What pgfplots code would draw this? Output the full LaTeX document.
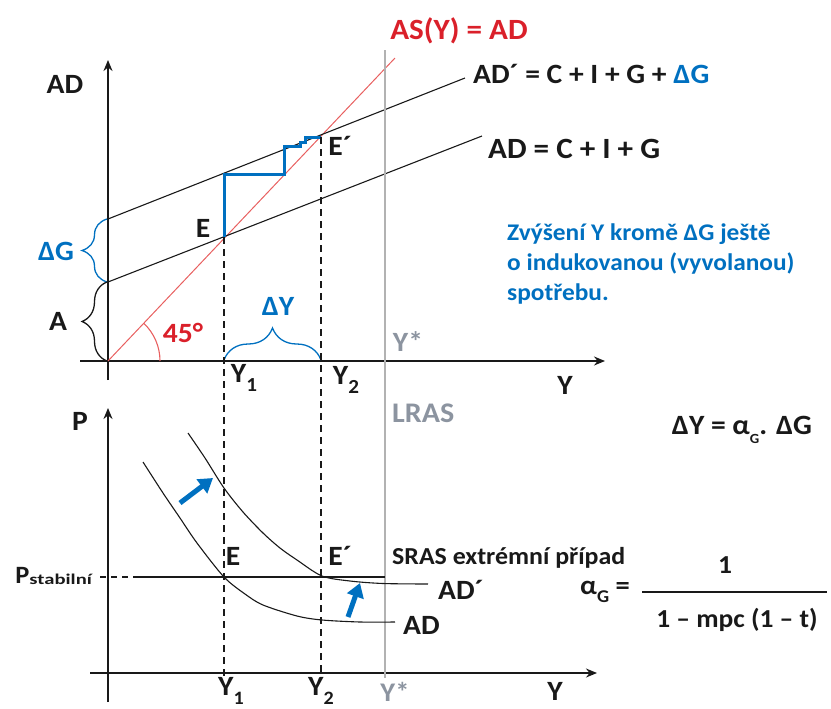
\documentclass[border=0pt]{standalone}
\usepackage{pgfplots}
\pgfplotsset{compat=1.18}
\usepackage{fontspec}
\setmainfont{Carlito}[FakeStretch=1.06]
\usetikzlibrary{arrows.meta,decorations.pathreplacing}

\definecolor{txtblue}{RGB}{0,112,192}
\definecolor{txtred}{RGB}{218,32,42}
\definecolor{diagred}{RGB}{232,96,96}
\definecolor{lrasgray}{RGB}{178,178,178}
\definecolor{graytxt}{RGB}{140,148,160}
\definecolor{ink}{RGB}{25,25,25}

% lowered index: \idx[size]{text}
\newcommand{\idx}[2][20]{\raisebox{-0.3em}{\fontsize{#1}{#1}\selectfont #2}}
\newcommand{\fs}[1]{\fontsize{#1}{#1}\selectfont\bfseries}

\tikzset{
  big/.style={font=\fs{28}, text=ink, inner sep=0pt},
  note/.style={font=\fs{24}, text=txtblue, inner sep=0pt, anchor=base west},
  curve/.style={ink, line width=1.1bp},
  drop/.style={ink, line width=1.3bp, dash pattern=on 7bp off 5bp},
  shiftarrow/.style={txtblue, line width=5bp, -{Triangle[length=14bp,width=17bp]}},
}

\begin{document}
\begin{tikzpicture}
\useasboundingbox (0,0) rectangle (831bp,-709bp);

% ---- income-expenditure (Keynesian cross) diagram ----
\begin{axis}[
  at={(108bp,-361bp)}, anchor=origin,
  x=1bp, y=1bp,
  xmin=-28, xmax=497, ymin=-19, ymax=301,
  axis lines=middle,
  axis line style={ink, line width=1.6bp},
  every inner x axis line/.append style={-{Stealth[length=11bp,width=9bp]}},
  every inner y axis line/.append style={-{Stealth[length=11bp,width=9bp]}},
  xtick=\empty, ytick=\empty,
  clip=false,
]
% 45-degree line AS(Y) = AD
\addplot[diagred, line width=1bp] coordinates {(0,0) (287,303)};
% AD = C + I + G and AD' = AD + dG
\addplot[curve] coordinates {(0,79) (374,225)};
\addplot[curve] coordinates {(0,142) (357,283)};
% multiplier staircase from E to E'
\addplot[txtblue, line width=3bp, line join=miter] coordinates {
  (116,124) (116,187) (176,187) (176,215) (192,215) (192,219)
  (197,219) (197,224) (213,224)};
% angle mark
\draw[diagred, line width=1.1bp] (52,0) arc[start angle=0, end angle=46.6, radius=52bp];
% braces
\draw[decorate, decoration={brace, amplitude=25bp}, txtblue, line width=1.3bp] (-1,79) -- (-1,142);
\draw[decorate, decoration={brace, amplitude=25bp}, ink, line width=1.3bp] (-1,0) -- (-1,79);
\draw[decorate, decoration={brace, amplitude=32bp}, txtblue, line width=1.3bp] (116,1) -- (213,1);
% labels
\node[big] at (-43,277) {AD};
\node[big, text=txtblue] at (-52,110) {ΔG};
\node[big] at (-50,40) {A};
\node[big, text=txtred] at (75,28) {45°};
\node[big] at (95,133) {E};
\node[big] at (232,215) {E´};
\node[big, text=txtblue] at (170,55) {ΔY};
\node[big] at (136,-17) {Y\idx{1}};
\node[big] at (238,-19) {Y\idx{2}};
\node[big, text=graytxt] at (300,19) {Y*};
\node[big] at (457,-24) {Y};
\node[big, font=\fs{29.5}, text=txtred] at (351,330) {AS(Y) = AD};
\node[big, anchor=west] at (365,287) {AD´ = C + I + G + \textcolor{txtblue}{ΔG}};
\node[big, font=\fs{29.5}, anchor=west] at (380,212) {AD = C + I + G};
\node[note] at (399,121) {Zvýšení Y kromě ΔG ještě};
\node[note] at (399,91) {o indukovanou (vyvolanou)};
\node[note] at (399,61) {spotřebu.};
\end{axis}

% ---- aggregate demand / supply diagram ----
\begin{axis}[
  at={(108bp,-673bp)}, anchor=origin,
  x=1bp, y=1bp,
  xmin=-18, xmax=489, ymin=-29, ymax=265,
  axis lines=middle,
  axis line style={ink, line width=1.6bp},
  every inner x axis line/.append style={-{Stealth[length=11bp,width=9bp]}},
  every inner y axis line/.append style={-{Stealth[length=11bp,width=9bp]}},
  xtick=\empty, ytick=\empty,
  clip=false,
]
% potential output Y* (LRAS), spanning both diagrams
\addplot[lrasgray, line width=1.6bp] coordinates {(277,623) (277,-5)};
% income levels Y1 and Y2, dropped from E and E'
\addplot[drop] coordinates {(116,436) (116,-6)};
\addplot[drop] coordinates {(213,536) (213,-6)};
% SRAS, extreme (horizontal) case at the stable price level
\addplot[ink, line width=1.3bp, dash pattern=on 6bp off 5bp] coordinates {(-8,96) (25,96)};
\addplot[ink, line width=1.3bp] coordinates {(25,96) (277,96)};
% AD and AD'
\addplot[curve, smooth, tension=0.5] coordinates {
  (35,211) (55,180) (72,155) (89,130) (116,96) (137,79) (155,68)
  (189,57) (214,53) (252,51) (287,51)};
\addplot[curve, smooth, tension=0.5] coordinates {
  (80,240) (97,215) (116,185) (135,161) (155,140) (172,125) (189,113)
  (214,97) (242,92) (275,89.5) (320,89)};
% shift arrows
\draw[shiftarrow] (72,170) -- (105,195);
\draw[shiftarrow] (240,56) -- (252,90);
% labels
\node[big] at (-28,252) {P};
\node[big, font=\fs{25}, anchor=base east] at (-16,90)
  {P\raisebox{-0.05em}{\scalebox{1.3}[1]{\fs{15}stabilní}}};
\node[big] at (125,117) {E};
\node[big] at (232,117) {E´};
\node[big, font=\fs{24.5}, anchor=west] at (284,115) {SRAS extrémní případ};
\node[big, anchor=west] at (330,83) {AD´};
\node[big, anchor=west] at (295,48) {AD};
\node[big, font=\fs{28.5}, text=graytxt, anchor=west] at (284,260) {LRAS};
\node[big] at (123,-18) {Y\idx[19]{1}};
\node[big] at (213,-18) {Y\idx[19]{2}};
\node[big, font=\fs{27}, text=graytxt] at (287,-19) {Y*};
\node[big] at (447,-18) {Y};
\node[big] at (634,243) {ΔY = α\idx[14]{G}. ΔG};
\node[big, font=\fs{27}] at (497,81) {α\idx[18]{G} =};
\draw[ink, line width=1.6bp] (534,81) -- (719,81);
\node[big, font=\fs{26}] at (617,108) {1};
\node[big, font=\fs{26}] at (629,53) {1 – mpc (1 – t)};
\end{axis}
\end{tikzpicture}
\end{document}
